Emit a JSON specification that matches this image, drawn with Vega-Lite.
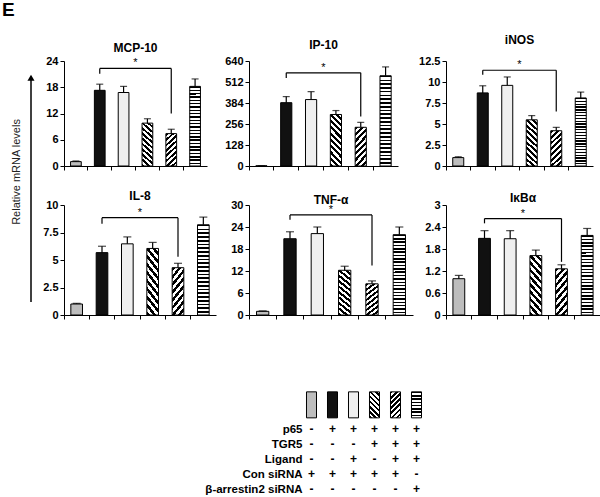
{
  "$schema": "https://vega.github.io/schema/vega-lite/v6.json",
  "background": "white",
  "padding": {"left": 1, "top": 1, "right": 0, "bottom": 0},
  "title": {"text": "E", "anchor": "start", "frame": "bounds", "fontSize": 19, "fontWeight": "bold", "offset": 14, "dx": -9},
  "params": [
    {"name": "p6", "value": {"gradient": "linear", "x1": 0, "y1": 0, "x2": 0.0001, "y2": 1, "stops": [
      {"offset": 0, "color": "#000"}, {"offset": 0.0188, "color": "#000"}, {"offset": 0.0188, "color": "#fff"}, {"offset": 0.0417, "color": "#fff"},
      {"offset": 0.0417, "color": "#000"}, {"offset": 0.0604, "color": "#000"}, {"offset": 0.0604, "color": "#fff"}, {"offset": 0.0833, "color": "#fff"},
      {"offset": 0.0833, "color": "#000"}, {"offset": 0.1021, "color": "#000"}, {"offset": 0.1021, "color": "#fff"}, {"offset": 0.125, "color": "#fff"},
      {"offset": 0.125, "color": "#000"}, {"offset": 0.1438, "color": "#000"}, {"offset": 0.1438, "color": "#fff"}, {"offset": 0.1667, "color": "#fff"},
      {"offset": 0.1667, "color": "#000"}, {"offset": 0.1854, "color": "#000"}, {"offset": 0.1854, "color": "#fff"}, {"offset": 0.2083, "color": "#fff"},
      {"offset": 0.2083, "color": "#000"}, {"offset": 0.2271, "color": "#000"}, {"offset": 0.2271, "color": "#fff"}, {"offset": 0.25, "color": "#fff"},
      {"offset": 0.25, "color": "#000"}, {"offset": 0.2688, "color": "#000"}, {"offset": 0.2688, "color": "#fff"}, {"offset": 0.2917, "color": "#fff"},
      {"offset": 0.2917, "color": "#000"}, {"offset": 0.3104, "color": "#000"}, {"offset": 0.3104, "color": "#fff"}, {"offset": 0.3333, "color": "#fff"},
      {"offset": 0.3333, "color": "#000"}, {"offset": 0.3521, "color": "#000"}, {"offset": 0.3521, "color": "#fff"}, {"offset": 0.375, "color": "#fff"},
      {"offset": 0.375, "color": "#000"}, {"offset": 0.3938, "color": "#000"}, {"offset": 0.3938, "color": "#fff"}, {"offset": 0.4167, "color": "#fff"},
      {"offset": 0.4167, "color": "#000"}, {"offset": 0.4354, "color": "#000"}, {"offset": 0.4354, "color": "#fff"}, {"offset": 0.4583, "color": "#fff"},
      {"offset": 0.4583, "color": "#000"}, {"offset": 0.4771, "color": "#000"}, {"offset": 0.4771, "color": "#fff"}, {"offset": 0.5, "color": "#fff"},
      {"offset": 0.5, "color": "#000"}, {"offset": 0.5188, "color": "#000"}, {"offset": 0.5188, "color": "#fff"}, {"offset": 0.5417, "color": "#fff"},
      {"offset": 0.5417, "color": "#000"}, {"offset": 0.5604, "color": "#000"}, {"offset": 0.5604, "color": "#fff"}, {"offset": 0.5833, "color": "#fff"},
      {"offset": 0.5833, "color": "#000"}, {"offset": 0.6021, "color": "#000"}, {"offset": 0.6021, "color": "#fff"}, {"offset": 0.625, "color": "#fff"},
      {"offset": 0.625, "color": "#000"}, {"offset": 0.6438, "color": "#000"}, {"offset": 0.6438, "color": "#fff"}, {"offset": 0.6667, "color": "#fff"},
      {"offset": 0.6667, "color": "#000"}, {"offset": 0.6854, "color": "#000"}, {"offset": 0.6854, "color": "#fff"}, {"offset": 0.7083, "color": "#fff"},
      {"offset": 0.7083, "color": "#000"}, {"offset": 0.7271, "color": "#000"}, {"offset": 0.7271, "color": "#fff"}, {"offset": 0.75, "color": "#fff"},
      {"offset": 0.75, "color": "#000"}, {"offset": 0.7688, "color": "#000"}, {"offset": 0.7688, "color": "#fff"}, {"offset": 0.7917, "color": "#fff"},
      {"offset": 0.7917, "color": "#000"}, {"offset": 0.8104, "color": "#000"}, {"offset": 0.8104, "color": "#fff"}, {"offset": 0.8333, "color": "#fff"},
      {"offset": 0.8333, "color": "#000"}, {"offset": 0.8521, "color": "#000"}, {"offset": 0.8521, "color": "#fff"}, {"offset": 0.875, "color": "#fff"},
      {"offset": 0.875, "color": "#000"}, {"offset": 0.8938, "color": "#000"}, {"offset": 0.8938, "color": "#fff"}, {"offset": 0.9167, "color": "#fff"},
      {"offset": 0.9167, "color": "#000"}, {"offset": 0.9354, "color": "#000"}, {"offset": 0.9354, "color": "#fff"}, {"offset": 0.9583, "color": "#fff"},
      {"offset": 0.9583, "color": "#000"}, {"offset": 0.9771, "color": "#000"}, {"offset": 0.9771, "color": "#fff"}, {"offset": 1, "color": "#fff"}
    ]}},
    {"name": "p4", "value": {"gradient": "linear", "x1": 0, "y1": 1, "x2": 0.2588, "y2": -0.1647, "stops": [
      {"offset": 0, "color": "#000"}, {"offset": 0.05, "color": "#000"}, {"offset": 0.05, "color": "#fff"}, {"offset": 0.1, "color": "#fff"},
      {"offset": 0.1, "color": "#000"}, {"offset": 0.15, "color": "#000"}, {"offset": 0.15, "color": "#fff"}, {"offset": 0.2, "color": "#fff"},
      {"offset": 0.2, "color": "#000"}, {"offset": 0.25, "color": "#000"}, {"offset": 0.25, "color": "#fff"}, {"offset": 0.3, "color": "#fff"},
      {"offset": 0.3, "color": "#000"}, {"offset": 0.35, "color": "#000"}, {"offset": 0.35, "color": "#fff"}, {"offset": 0.4, "color": "#fff"},
      {"offset": 0.4, "color": "#000"}, {"offset": 0.45, "color": "#000"}, {"offset": 0.45, "color": "#fff"}, {"offset": 0.5, "color": "#fff"},
      {"offset": 0.5, "color": "#000"}, {"offset": 0.55, "color": "#000"}, {"offset": 0.55, "color": "#fff"}, {"offset": 0.6, "color": "#fff"},
      {"offset": 0.6, "color": "#000"}, {"offset": 0.65, "color": "#000"}, {"offset": 0.65, "color": "#fff"}, {"offset": 0.7, "color": "#fff"},
      {"offset": 0.7, "color": "#000"}, {"offset": 0.75, "color": "#000"}, {"offset": 0.75, "color": "#fff"}, {"offset": 0.8, "color": "#fff"},
      {"offset": 0.8, "color": "#000"}, {"offset": 0.85, "color": "#000"}, {"offset": 0.85, "color": "#fff"}, {"offset": 0.9, "color": "#fff"},
      {"offset": 0.9, "color": "#000"}, {"offset": 0.95, "color": "#000"}, {"offset": 0.95, "color": "#fff"}, {"offset": 1, "color": "#fff"}
    ]}},
    {"name": "p5", "value": {"gradient": "linear", "x1": 0, "y1": 0, "x2": 0.3617, "y2": 1.1934, "stops": [
      {"offset": 0, "color": "#000"}, {"offset": 0.0625, "color": "#000"}, {"offset": 0.0625, "color": "#fff"}, {"offset": 0.125, "color": "#fff"},
      {"offset": 0.125, "color": "#000"}, {"offset": 0.1875, "color": "#000"}, {"offset": 0.1875, "color": "#fff"}, {"offset": 0.25, "color": "#fff"},
      {"offset": 0.25, "color": "#000"}, {"offset": 0.3125, "color": "#000"}, {"offset": 0.3125, "color": "#fff"}, {"offset": 0.375, "color": "#fff"},
      {"offset": 0.375, "color": "#000"}, {"offset": 0.4375, "color": "#000"}, {"offset": 0.4375, "color": "#fff"}, {"offset": 0.5, "color": "#fff"},
      {"offset": 0.5, "color": "#000"}, {"offset": 0.5625, "color": "#000"}, {"offset": 0.5625, "color": "#fff"}, {"offset": 0.625, "color": "#fff"},
      {"offset": 0.625, "color": "#000"}, {"offset": 0.6875, "color": "#000"}, {"offset": 0.6875, "color": "#fff"}, {"offset": 0.75, "color": "#fff"},
      {"offset": 0.75, "color": "#000"}, {"offset": 0.8125, "color": "#000"}, {"offset": 0.8125, "color": "#fff"}, {"offset": 0.875, "color": "#fff"},
      {"offset": 0.875, "color": "#000"}, {"offset": 0.9375, "color": "#000"}, {"offset": 0.9375, "color": "#fff"}, {"offset": 1, "color": "#fff"}
    ]}},
    {"name": "l6", "value": {"gradient": "linear", "x1": 0, "y1": 0, "x2": 0.0001, "y2": 1, "stops": [
      {"offset": 0, "color": "#000"}, {"offset": 0.0563, "color": "#000"}, {"offset": 0.0563, "color": "#fff"}, {"offset": 0.125, "color": "#fff"},
      {"offset": 0.125, "color": "#000"}, {"offset": 0.1813, "color": "#000"}, {"offset": 0.1813, "color": "#fff"}, {"offset": 0.25, "color": "#fff"},
      {"offset": 0.25, "color": "#000"}, {"offset": 0.3063, "color": "#000"}, {"offset": 0.3063, "color": "#fff"}, {"offset": 0.375, "color": "#fff"},
      {"offset": 0.375, "color": "#000"}, {"offset": 0.4313, "color": "#000"}, {"offset": 0.4313, "color": "#fff"}, {"offset": 0.5, "color": "#fff"},
      {"offset": 0.5, "color": "#000"}, {"offset": 0.5563, "color": "#000"}, {"offset": 0.5563, "color": "#fff"}, {"offset": 0.625, "color": "#fff"},
      {"offset": 0.625, "color": "#000"}, {"offset": 0.6813, "color": "#000"}, {"offset": 0.6813, "color": "#fff"}, {"offset": 0.75, "color": "#fff"},
      {"offset": 0.75, "color": "#000"}, {"offset": 0.8063, "color": "#000"}, {"offset": 0.8063, "color": "#fff"}, {"offset": 0.875, "color": "#fff"},
      {"offset": 0.875, "color": "#000"}, {"offset": 0.9313, "color": "#000"}, {"offset": 0.9313, "color": "#fff"}, {"offset": 1, "color": "#fff"}
    ]}},
    {"name": "l4", "value": {"gradient": "linear", "x1": 0, "y1": 1, "x2": 0.4639, "y2": -0.2062, "stops": [
      {"offset": 0, "color": "#000"}, {"offset": 0.0714, "color": "#000"}, {"offset": 0.0714, "color": "#fff"}, {"offset": 0.1429, "color": "#fff"},
      {"offset": 0.1429, "color": "#000"}, {"offset": 0.2143, "color": "#000"}, {"offset": 0.2143, "color": "#fff"}, {"offset": 0.2857, "color": "#fff"},
      {"offset": 0.2857, "color": "#000"}, {"offset": 0.3571, "color": "#000"}, {"offset": 0.3571, "color": "#fff"}, {"offset": 0.4286, "color": "#fff"},
      {"offset": 0.4286, "color": "#000"}, {"offset": 0.5, "color": "#000"}, {"offset": 0.5, "color": "#fff"}, {"offset": 0.5714, "color": "#fff"},
      {"offset": 0.5714, "color": "#000"}, {"offset": 0.6429, "color": "#000"}, {"offset": 0.6429, "color": "#fff"}, {"offset": 0.7143, "color": "#fff"},
      {"offset": 0.7143, "color": "#000"}, {"offset": 0.7857, "color": "#000"}, {"offset": 0.7857, "color": "#fff"}, {"offset": 0.8571, "color": "#fff"},
      {"offset": 0.8571, "color": "#000"}, {"offset": 0.9286, "color": "#000"}, {"offset": 0.9286, "color": "#fff"}, {"offset": 1, "color": "#fff"}
    ]}},
    {"name": "l5", "value": {"gradient": "linear", "x1": 0, "y1": 0, "x2": 0.4639, "y2": 1.2062, "stops": [
      {"offset": 0, "color": "#000"}, {"offset": 0.0714, "color": "#000"}, {"offset": 0.0714, "color": "#fff"}, {"offset": 0.1429, "color": "#fff"},
      {"offset": 0.1429, "color": "#000"}, {"offset": 0.2143, "color": "#000"}, {"offset": 0.2143, "color": "#fff"}, {"offset": 0.2857, "color": "#fff"},
      {"offset": 0.2857, "color": "#000"}, {"offset": 0.3571, "color": "#000"}, {"offset": 0.3571, "color": "#fff"}, {"offset": 0.4286, "color": "#fff"},
      {"offset": 0.4286, "color": "#000"}, {"offset": 0.5, "color": "#000"}, {"offset": 0.5, "color": "#fff"}, {"offset": 0.5714, "color": "#fff"},
      {"offset": 0.5714, "color": "#000"}, {"offset": 0.6429, "color": "#000"}, {"offset": 0.6429, "color": "#fff"}, {"offset": 0.7143, "color": "#fff"},
      {"offset": 0.7143, "color": "#000"}, {"offset": 0.7857, "color": "#000"}, {"offset": 0.7857, "color": "#fff"}, {"offset": 0.8571, "color": "#fff"},
      {"offset": 0.8571, "color": "#000"}, {"offset": 0.9286, "color": "#000"}, {"offset": 0.9286, "color": "#fff"}, {"offset": 1, "color": "#fff"}
    ]}}
  ],
  "datasets": {
    "bars": [
      {"panel": "MCP-10", "cond": "c1", "mean": 1.0, "upper": 1.15},
      {"panel": "MCP-10", "cond": "c2", "mean": 17.3, "upper": 18.7},
      {"panel": "MCP-10", "cond": "c3", "mean": 16.8, "upper": 18.2},
      {"panel": "MCP-10", "cond": "c4", "mean": 9.8, "upper": 10.8},
      {"panel": "MCP-10", "cond": "c5", "mean": 7.4, "upper": 8.4},
      {"panel": "MCP-10", "cond": "c6", "mean": 18.2, "upper": 19.9},
      {"panel": "IP-10", "cond": "c1", "mean": 1, "upper": 1},
      {"panel": "IP-10", "cond": "c2", "mean": 386, "upper": 423},
      {"panel": "IP-10", "cond": "c3", "mean": 405, "upper": 453},
      {"panel": "IP-10", "cond": "c4", "mean": 314, "upper": 338},
      {"panel": "IP-10", "cond": "c5", "mean": 236, "upper": 266},
      {"panel": "IP-10", "cond": "c6", "mean": 550, "upper": 604},
      {"panel": "iNOS", "cond": "c1", "mean": 1.0, "upper": 1.1},
      {"panel": "iNOS", "cond": "c2", "mean": 8.7, "upper": 9.55},
      {"panel": "iNOS", "cond": "c3", "mean": 9.6, "upper": 10.6},
      {"panel": "iNOS", "cond": "c4", "mean": 5.5, "upper": 6.0},
      {"panel": "iNOS", "cond": "c5", "mean": 4.2, "upper": 4.6},
      {"panel": "iNOS", "cond": "c6", "mean": 8.1, "upper": 8.8},
      {"panel": "IL-8", "cond": "c1", "mean": 1.0, "upper": 1.05},
      {"panel": "IL-8", "cond": "c2", "mean": 5.67, "upper": 6.25},
      {"panel": "IL-8", "cond": "c3", "mean": 6.47, "upper": 7.1},
      {"panel": "IL-8", "cond": "c4", "mean": 6.05, "upper": 6.6},
      {"panel": "IL-8", "cond": "c5", "mean": 4.3, "upper": 4.7},
      {"panel": "IL-8", "cond": "c6", "mean": 8.2, "upper": 8.9},
      {"panel": "TNF-α", "cond": "c1", "mean": 1.0, "upper": 1.1},
      {"panel": "TNF-α", "cond": "c2", "mean": 20.8, "upper": 22.7},
      {"panel": "TNF-α", "cond": "c3", "mean": 22.2, "upper": 24.0},
      {"panel": "TNF-α", "cond": "c4", "mean": 12.2, "upper": 13.3},
      {"panel": "TNF-α", "cond": "c5", "mean": 8.5, "upper": 9.3},
      {"panel": "TNF-α", "cond": "c6", "mean": 21.9, "upper": 24.0},
      {"panel": "IκBα", "cond": "c1", "mean": 0.99, "upper": 1.08},
      {"panel": "IκBα", "cond": "c2", "mean": 2.09, "upper": 2.3},
      {"panel": "IκBα", "cond": "c3", "mean": 2.08, "upper": 2.3},
      {"panel": "IκBα", "cond": "c4", "mean": 1.62, "upper": 1.77},
      {"panel": "IκBα", "cond": "c5", "mean": 1.26, "upper": 1.37},
      {"panel": "IκBα", "cond": "c6", "mean": 2.17, "upper": 2.36}
    ],
    "brackets": [
      {"panel": "MCP-10", "from": "c2", "to": "c5", "mid": "c4", "top": 22.3, "leftEnd": 21.1, "rightEnd": 12.0},
      {"panel": "IP-10", "from": "c2", "to": "c5", "mid": "c4", "top": 568, "leftEnd": 537, "rightEnd": 302},
      {"panel": "iNOS", "from": "c2", "to": "c5", "mid": "c4", "top": 11.4, "leftEnd": 10.85, "rightEnd": 6.5},
      {"panel": "IL-8", "from": "c2", "to": "c5", "mid": "c4", "top": 8.85, "leftEnd": 8.3, "rightEnd": 5.3},
      {"panel": "TNF-α", "from": "c2", "to": "c5", "mid": "c4", "top": 27.3, "leftEnd": 26, "rightEnd": 13.5},
      {"panel": "IκBα", "from": "c2", "to": "c5", "mid": "c4", "top": 2.63, "leftEnd": 2.5, "rightEnd": 1.45}
    ],
    "conds": [{"cond": "c1"}, {"cond": "c2"}, {"cond": "c3"}, {"cond": "c4"}, {"cond": "c5"}, {"cond": "c6"}],
    "legend": [
      {"row": "p65", "cond": "c1", "sign": "-"}, {"row": "p65", "cond": "c2", "sign": "+"}, {"row": "p65", "cond": "c3", "sign": "+"},
      {"row": "p65", "cond": "c4", "sign": "+"}, {"row": "p65", "cond": "c5", "sign": "+"}, {"row": "p65", "cond": "c6", "sign": "+"},
      {"row": "TGR5", "cond": "c1", "sign": "-"}, {"row": "TGR5", "cond": "c2", "sign": "-"}, {"row": "TGR5", "cond": "c3", "sign": "-"},
      {"row": "TGR5", "cond": "c4", "sign": "+"}, {"row": "TGR5", "cond": "c5", "sign": "+"}, {"row": "TGR5", "cond": "c6", "sign": "+"},
      {"row": "Ligand", "cond": "c1", "sign": "-"}, {"row": "Ligand", "cond": "c2", "sign": "-"}, {"row": "Ligand", "cond": "c3", "sign": "+"},
      {"row": "Ligand", "cond": "c4", "sign": "-"}, {"row": "Ligand", "cond": "c5", "sign": "+"}, {"row": "Ligand", "cond": "c6", "sign": "+"},
      {"row": "Con siRNA", "cond": "c1", "sign": "+"}, {"row": "Con siRNA", "cond": "c2", "sign": "+"}, {"row": "Con siRNA", "cond": "c3", "sign": "+"},
      {"row": "Con siRNA", "cond": "c4", "sign": "+"}, {"row": "Con siRNA", "cond": "c5", "sign": "+"}, {"row": "Con siRNA", "cond": "c6", "sign": "-"},
      {"row": "β-arrestin2 siRNA", "cond": "c1", "sign": "-"}, {"row": "β-arrestin2 siRNA", "cond": "c2", "sign": "-"}, {"row": "β-arrestin2 siRNA", "cond": "c3", "sign": "-"},
      {"row": "β-arrestin2 siRNA", "cond": "c4", "sign": "-"}, {"row": "β-arrestin2 siRNA", "cond": "c5", "sign": "-"}, {"row": "β-arrestin2 siRNA", "cond": "c6", "sign": "+"}
    ]
  },
  "config": {
    "font": "Liberation Sans",
    "view": {"stroke": null},
    "axis": {"domainColor": "#000", "tickColor": "#000", "labelColor": "#000", "labelFont": "Liberation Sans", "labelFontWeight": "bold", "labelFontSize": 11, "grid": false, "domainWidth": 1, "tickWidth": 1, "labelOverlap": false},
    "title": {"fontSize": 12, "fontWeight": "bold", "color": "#000", "font": "Liberation Sans", "frame": "group"}
  },
  "spacing": 69,
  "vconcat": [
    {
      "columns": 4,
      "align": "each",
      "bounds": "flush",
      "spacing": {"row": 39, "column": 33},
      "concat": [
        {
          "width": 14, "height": 105,
          "data": {"values": [{"label": "Relative mRNA levels"}]},
          "layer": [
            {"mark": {"type": "rule", "color": "#000", "strokeWidth": 1.5},
             "encoding": {
               "x": {"datum": "arrow", "type": "nominal", "scale": {"type": "point", "domain": ["label", "arrow"], "padding": 0}, "axis": null},
               "y": {"datum": -1.295, "type": "quantitative", "scale": {"domain": [0, 1], "nice": false, "zero": false}, "axis": null},
               "y2": {"datum": 0.85}}},
            {"mark": {"type": "point", "shape": "triangle-up", "size": 50, "filled": true, "color": "#000", "opacity": 1},
             "encoding": {
               "x": {"datum": "arrow", "type": "nominal"},
               "y": {"datum": 0.84, "type": "quantitative"}}},
            {"mark": {"type": "text", "angle": 270, "fontSize": 11, "color": "#222", "baseline": "middle", "align": "center"},
             "encoding": {
               "x": {"datum": "label", "type": "nominal"},
               "y": {"datum": -0.057, "type": "quantitative"},
               "text": {"field": "label"}}}
          ]
        },
        {"width": 143, "height": 105,
         "title": {"text": "MCP-10", "offset": 0},
         "encoding": {"x": {"field": "cond", "type": "nominal", "title": null, "scale": {"domain": ["c1","c2","c3","c4","c5","c6"], "paddingInner": 0, "paddingOuter": 0}, "axis": {"labels": false, "bandPosition": 0, "tickSize": 4, "title": null}}},
         "layer": [
           {"data": {"name": "bars"}, "transform": [{"filter": {"field": "panel", "equal": "MCP-10"}}],
            "layer": [
              {"mark": {"type": "bar", "width": {"band": 0.45}, "stroke": "#000", "strokeWidth": 1},
               "encoding": {"y": {"field": "mean", "type": "quantitative", "title": null, "scale": {"domain": [0, 24], "nice": false}, "axis": {"values": [0, 6, 12, 18, 24], "tickCount": 12, "labelExpr": "toString(datum.value)", "labelOverlap": false, "tickSize": 4, "labelPadding": 2, "title": null}},
                            "fill": {"value": {"expr": "datum.cond==='c1'?'#bdbdbd':datum.cond==='c2'?'#111111':datum.cond==='c3'?'#efefef':datum.cond==='c4'?p4:datum.cond==='c5'?p5:p6"}}}},
              {"mark": {"type": "rule", "color": "#000", "strokeWidth": 1.2}, "encoding": {"y": {"field": "mean", "type": "quantitative", "title": null}, "y2": {"field": "upper"}}},
              {"mark": {"type": "tick", "color": "#000", "size": 7, "thickness": 1.2}, "encoding": {"y": {"field": "upper", "type": "quantitative", "title": null}}}
            ]},
           {"data": {"name": "brackets"}, "transform": [{"filter": {"field": "panel", "equal": "MCP-10"}}],
            "layer": [
              {"mark": {"type": "rule", "color": "#000", "strokeWidth": 1.2}, "encoding": {"x": {"field": "from", "type": "nominal", "title": null}, "x2": {"field": "to"}, "y": {"field": "top", "type": "quantitative", "title": null}}},
              {"mark": {"type": "rule", "color": "#000", "strokeWidth": 1.2}, "encoding": {"x": {"field": "from", "type": "nominal", "title": null}, "y": {"field": "top", "type": "quantitative", "title": null}, "y2": {"field": "leftEnd"}}},
              {"mark": {"type": "rule", "color": "#000", "strokeWidth": 1.2}, "encoding": {"x": {"field": "to", "type": "nominal", "title": null}, "y": {"field": "top", "type": "quantitative", "title": null}, "y2": {"field": "rightEnd"}}},
              {"mark": {"type": "text", "text": "*", "baseline": "bottom", "fontSize": 11, "color": "#000"}, "encoding": {"x": {"field": "mid", "type": "nominal", "bandPosition": 0, "title": null}, "y": {"field": "top", "type": "quantitative", "title": null}}}
            ]}
         ]},
        {"width": 149, "height": 105,
         "title": {"text": "IP-10", "offset": 3},
         "encoding": {"x": {"field": "cond", "type": "nominal", "title": null, "scale": {"domain": ["c1","c2","c3","c4","c5","c6"], "paddingInner": 0, "paddingOuter": 0}, "axis": {"labels": false, "bandPosition": 0, "tickSize": 4, "title": null}}},
         "layer": [
           {"data": {"name": "bars"}, "transform": [{"filter": {"field": "panel", "equal": "IP-10"}}],
            "layer": [
              {"mark": {"type": "bar", "width": {"band": 0.45}, "stroke": "#000", "strokeWidth": 1},
               "encoding": {"y": {"field": "mean", "type": "quantitative", "title": null, "scale": {"domain": [0, 640], "nice": false}, "axis": {"values": [0, 128, 256, 384, 512, 640], "tickCount": 12, "labelExpr": "toString(datum.value)", "labelOverlap": false, "tickSize": 4, "labelPadding": 2, "title": null}},
                            "fill": {"value": {"expr": "datum.cond==='c1'?'#bdbdbd':datum.cond==='c2'?'#111111':datum.cond==='c3'?'#efefef':datum.cond==='c4'?p4:datum.cond==='c5'?p5:p6"}}}},
              {"mark": {"type": "rule", "color": "#000", "strokeWidth": 1.2}, "encoding": {"y": {"field": "mean", "type": "quantitative", "title": null}, "y2": {"field": "upper"}}},
              {"mark": {"type": "tick", "color": "#000", "size": 7, "thickness": 1.2}, "encoding": {"y": {"field": "upper", "type": "quantitative", "title": null}}}
            ]},
           {"data": {"name": "brackets"}, "transform": [{"filter": {"field": "panel", "equal": "IP-10"}}],
            "layer": [
              {"mark": {"type": "rule", "color": "#000", "strokeWidth": 1.2}, "encoding": {"x": {"field": "from", "type": "nominal", "title": null}, "x2": {"field": "to"}, "y": {"field": "top", "type": "quantitative", "title": null}}},
              {"mark": {"type": "rule", "color": "#000", "strokeWidth": 1.2}, "encoding": {"x": {"field": "from", "type": "nominal", "title": null}, "y": {"field": "top", "type": "quantitative", "title": null}, "y2": {"field": "leftEnd"}}},
              {"mark": {"type": "rule", "color": "#000", "strokeWidth": 1.2}, "encoding": {"x": {"field": "to", "type": "nominal", "title": null}, "y": {"field": "top", "type": "quantitative", "title": null}, "y2": {"field": "rightEnd"}}},
              {"mark": {"type": "text", "text": "*", "baseline": "bottom", "fontSize": 11, "color": "#000"}, "encoding": {"x": {"field": "mid", "type": "nominal", "bandPosition": 0, "title": null}, "y": {"field": "top", "type": "quantitative", "title": null}}}
            ]}
         ]},
        {"width": 147, "height": 105,
         "title": {"text": "iNOS", "offset": 8},
         "encoding": {"x": {"field": "cond", "type": "nominal", "title": null, "scale": {"domain": ["c1","c2","c3","c4","c5","c6"], "paddingInner": 0, "paddingOuter": 0}, "axis": {"labels": false, "bandPosition": 0, "tickSize": 4, "title": null}}},
         "layer": [
           {"data": {"name": "bars"}, "transform": [{"filter": {"field": "panel", "equal": "iNOS"}}],
            "layer": [
              {"mark": {"type": "bar", "width": {"band": 0.45}, "stroke": "#000", "strokeWidth": 1},
               "encoding": {"y": {"field": "mean", "type": "quantitative", "title": null, "scale": {"domain": [0, 12.5], "nice": false}, "axis": {"values": [0, 2.5, 5, 7.5, 10, 12.5], "tickCount": 12, "labelExpr": "toString(datum.value)", "labelOverlap": false, "tickSize": 4, "labelPadding": 2, "title": null}},
                            "fill": {"value": {"expr": "datum.cond==='c1'?'#bdbdbd':datum.cond==='c2'?'#111111':datum.cond==='c3'?'#efefef':datum.cond==='c4'?p4:datum.cond==='c5'?p5:p6"}}}},
              {"mark": {"type": "rule", "color": "#000", "strokeWidth": 1.2}, "encoding": {"y": {"field": "mean", "type": "quantitative", "title": null}, "y2": {"field": "upper"}}},
              {"mark": {"type": "tick", "color": "#000", "size": 7, "thickness": 1.2}, "encoding": {"y": {"field": "upper", "type": "quantitative", "title": null}}}
            ]},
           {"data": {"name": "brackets"}, "transform": [{"filter": {"field": "panel", "equal": "iNOS"}}],
            "layer": [
              {"mark": {"type": "rule", "color": "#000", "strokeWidth": 1.2}, "encoding": {"x": {"field": "from", "type": "nominal", "title": null}, "x2": {"field": "to"}, "y": {"field": "top", "type": "quantitative", "title": null}}},
              {"mark": {"type": "rule", "color": "#000", "strokeWidth": 1.2}, "encoding": {"x": {"field": "from", "type": "nominal", "title": null}, "y": {"field": "top", "type": "quantitative", "title": null}, "y2": {"field": "leftEnd"}}},
              {"mark": {"type": "rule", "color": "#000", "strokeWidth": 1.2}, "encoding": {"x": {"field": "to", "type": "nominal", "title": null}, "y": {"field": "top", "type": "quantitative", "title": null}, "y2": {"field": "rightEnd"}}},
              {"mark": {"type": "text", "text": "*", "baseline": "bottom", "fontSize": 11, "color": "#000"}, "encoding": {"x": {"field": "mid", "type": "nominal", "bandPosition": 0, "title": null}, "y": {"field": "top", "type": "quantitative", "title": null}}}
            ]}
         ]},
        {"width": 14, "height": 110, "data": {"values": []}, "mark": "point"},
        {"width": 152, "height": 110,
         "title": {"text": "IL-8", "offset": -4},
         "encoding": {"x": {"field": "cond", "type": "nominal", "title": null, "scale": {"domain": ["c1","c2","c3","c4","c5","c6"], "paddingInner": 0, "paddingOuter": 0}, "axis": {"labels": false, "bandPosition": 0, "tickSize": 4, "title": null}}},
         "layer": [
           {"data": {"name": "bars"}, "transform": [{"filter": {"field": "panel", "equal": "IL-8"}}],
            "layer": [
              {"mark": {"type": "bar", "width": {"band": 0.46}, "stroke": "#000", "strokeWidth": 1},
               "encoding": {"y": {"field": "mean", "type": "quantitative", "title": null, "scale": {"domain": [0, 10], "nice": false}, "axis": {"values": [0, 2.5, 5, 7.5, 10], "tickCount": 12, "labelExpr": "toString(datum.value)", "labelOverlap": false, "tickSize": 4, "labelPadding": 2, "title": null}},
                            "fill": {"value": {"expr": "datum.cond==='c1'?'#bdbdbd':datum.cond==='c2'?'#111111':datum.cond==='c3'?'#efefef':datum.cond==='c4'?p4:datum.cond==='c5'?p5:p6"}}}},
              {"mark": {"type": "rule", "color": "#000", "strokeWidth": 1.2}, "encoding": {"y": {"field": "mean", "type": "quantitative", "title": null}, "y2": {"field": "upper"}}},
              {"mark": {"type": "tick", "color": "#000", "size": 8, "thickness": 1.2}, "encoding": {"y": {"field": "upper", "type": "quantitative", "title": null}}}
            ]},
           {"data": {"name": "brackets"}, "transform": [{"filter": {"field": "panel", "equal": "IL-8"}}],
            "layer": [
              {"mark": {"type": "rule", "color": "#000", "strokeWidth": 1.2}, "encoding": {"x": {"field": "from", "type": "nominal", "title": null}, "x2": {"field": "to"}, "y": {"field": "top", "type": "quantitative", "title": null}}},
              {"mark": {"type": "rule", "color": "#000", "strokeWidth": 1.2}, "encoding": {"x": {"field": "from", "type": "nominal", "title": null}, "y": {"field": "top", "type": "quantitative", "title": null}, "y2": {"field": "leftEnd"}}},
              {"mark": {"type": "rule", "color": "#000", "strokeWidth": 1.2}, "encoding": {"x": {"field": "to", "type": "nominal", "title": null}, "y": {"field": "top", "type": "quantitative", "title": null}, "y2": {"field": "rightEnd"}}},
              {"mark": {"type": "text", "text": "*", "baseline": "bottom", "fontSize": 11, "color": "#000"}, "encoding": {"x": {"field": "mid", "type": "nominal", "bandPosition": 0, "title": null}, "y": {"field": "top", "type": "quantitative", "title": null}}}
            ]}
         ]},
        {"width": 164, "height": 110,
         "title": {"text": "TNF-α", "offset": -8},
         "encoding": {"x": {"field": "cond", "type": "nominal", "title": null, "scale": {"domain": ["c1","c2","c3","c4","c5","c6"], "paddingInner": 0, "paddingOuter": 0}, "axis": {"labels": false, "bandPosition": 0, "tickSize": 4, "title": null}}},
         "layer": [
           {"data": {"name": "bars"}, "transform": [{"filter": {"field": "panel", "equal": "TNF-α"}}],
            "layer": [
              {"mark": {"type": "bar", "width": {"band": 0.45}, "stroke": "#000", "strokeWidth": 1},
               "encoding": {"y": {"field": "mean", "type": "quantitative", "title": null, "scale": {"domain": [0, 30], "nice": false}, "axis": {"values": [0, 6, 12, 18, 24, 30], "tickCount": 12, "labelExpr": "toString(datum.value)", "labelOverlap": false, "tickSize": 4, "labelPadding": 2, "title": null}},
                            "fill": {"value": {"expr": "datum.cond==='c1'?'#bdbdbd':datum.cond==='c2'?'#111111':datum.cond==='c3'?'#efefef':datum.cond==='c4'?p4:datum.cond==='c5'?p5:p6"}}}},
              {"mark": {"type": "rule", "color": "#000", "strokeWidth": 1.2}, "encoding": {"y": {"field": "mean", "type": "quantitative", "title": null}, "y2": {"field": "upper"}}},
              {"mark": {"type": "tick", "color": "#000", "size": 8, "thickness": 1.2}, "encoding": {"y": {"field": "upper", "type": "quantitative", "title": null}}}
            ]},
           {"data": {"name": "brackets"}, "transform": [{"filter": {"field": "panel", "equal": "TNF-α"}}],
            "layer": [
              {"mark": {"type": "rule", "color": "#000", "strokeWidth": 1.2}, "encoding": {"x": {"field": "from", "type": "nominal", "title": null}, "x2": {"field": "to"}, "y": {"field": "top", "type": "quantitative", "title": null}}},
              {"mark": {"type": "rule", "color": "#000", "strokeWidth": 1.2}, "encoding": {"x": {"field": "from", "type": "nominal", "title": null}, "y": {"field": "top", "type": "quantitative", "title": null}, "y2": {"field": "leftEnd"}}},
              {"mark": {"type": "rule", "color": "#000", "strokeWidth": 1.2}, "encoding": {"x": {"field": "to", "type": "nominal", "title": null}, "y": {"field": "top", "type": "quantitative", "title": null}, "y2": {"field": "rightEnd"}}},
              {"mark": {"type": "text", "text": "*", "baseline": "bottom", "fontSize": 11, "color": "#000"}, "encoding": {"x": {"field": "mid", "type": "nominal", "bandPosition": 0, "title": null}, "y": {"field": "top", "type": "quantitative", "title": null}}}
            ]}
         ]},
        {"width": 154, "height": 110,
         "title": {"text": "IκBα", "offset": -6},
         "encoding": {"x": {"field": "cond", "type": "nominal", "title": null, "scale": {"domain": ["c1","c2","c3","c4","c5","c6"], "paddingInner": 0, "paddingOuter": 0}, "axis": {"labels": false, "bandPosition": 0, "tickSize": 4, "title": null}}},
         "layer": [
           {"data": {"name": "bars"}, "transform": [{"filter": {"field": "panel", "equal": "IκBα"}}],
            "layer": [
              {"mark": {"type": "bar", "width": {"band": 0.46}, "stroke": "#000", "strokeWidth": 1},
               "encoding": {"y": {"field": "mean", "type": "quantitative", "title": null, "scale": {"domain": [0, 3], "nice": false}, "axis": {"values": [0, 0.6, 1.2, 1.8, 2.4, 3], "tickCount": 12, "labelExpr": "toString(datum.value)", "labelOverlap": false, "tickSize": 4, "labelPadding": 2, "title": null}},
                            "fill": {"value": {"expr": "datum.cond==='c1'?'#bdbdbd':datum.cond==='c2'?'#111111':datum.cond==='c3'?'#efefef':datum.cond==='c4'?p4:datum.cond==='c5'?p5:p6"}}}},
              {"mark": {"type": "rule", "color": "#000", "strokeWidth": 1.2}, "encoding": {"y": {"field": "mean", "type": "quantitative", "title": null}, "y2": {"field": "upper"}}},
              {"mark": {"type": "tick", "color": "#000", "size": 8, "thickness": 1.2}, "encoding": {"y": {"field": "upper", "type": "quantitative", "title": null}}}
            ]},
           {"data": {"name": "brackets"}, "transform": [{"filter": {"field": "panel", "equal": "IκBα"}}],
            "layer": [
              {"mark": {"type": "rule", "color": "#000", "strokeWidth": 1.2}, "encoding": {"x": {"field": "from", "type": "nominal", "title": null}, "x2": {"field": "to"}, "y": {"field": "top", "type": "quantitative", "title": null}}},
              {"mark": {"type": "rule", "color": "#000", "strokeWidth": 1.2}, "encoding": {"x": {"field": "from", "type": "nominal", "title": null}, "y": {"field": "top", "type": "quantitative", "title": null}, "y2": {"field": "leftEnd"}}},
              {"mark": {"type": "rule", "color": "#000", "strokeWidth": 1.2}, "encoding": {"x": {"field": "to", "type": "nominal", "title": null}, "y": {"field": "top", "type": "quantitative", "title": null}, "y2": {"field": "rightEnd"}}},
              {"mark": {"type": "text", "text": "*", "baseline": "bottom", "fontSize": 11, "color": "#000"}, "encoding": {"x": {"field": "mid", "type": "nominal", "bandPosition": 0, "title": null}, "y": {"field": "top", "type": "quantitative", "title": null}}}
            ]}
         ]}
      ]
    },
    {
      "width": 410, "height": 90,
      "layer": [
        {"data": {"name": "conds"},
         "mark": {"type": "point", "shape": "M-0.385,-0.55H0.385V1.45H-0.385Z", "size": 676, "filled": true, "opacity": 1, "stroke": "#000", "strokeWidth": 1},
         "encoding": {
           "x": {"field": "cond", "type": "nominal", "title": null, "scale": {"type": "band", "domain": ["c1","c2","c3","c4","c5","c6"], "range": [284, 410], "paddingInner": 0, "paddingOuter": 0}, "axis": null},
           "y": {"datum": "sw", "type": "nominal", "title": null, "scale": {"type": "point", "padding": 0, "domain": ["sw", "gap", "p65", "TGR5", "Ligand", "Con siRNA", "β-arrestin2 siRNA"]},
                 "axis": {"values": ["p65", "TGR5", "Ligand", "Con siRNA", "β-arrestin2 siRNA"], "offset": -288, "domain": false, "ticks": false, "labelPadding": 3, "labelFontSize": 11.5, "labelFontWeight": "bold", "title": null}},
           "fill": {"value": {"expr": "datum.cond==='c1'?'#bdbdbd':datum.cond==='c2'?'#111111':datum.cond==='c3'?'#efefef':datum.cond==='c4'?l4:datum.cond==='c5'?l5:l6"}}}},
        {"data": {"name": "legend"},
         "mark": {"type": "text", "fontSize": 12, "fontWeight": "bold", "color": "#000", "baseline": "middle"},
         "encoding": {
           "x": {"field": "cond", "type": "nominal", "title": null},
           "y": {"field": "row", "type": "nominal", "title": null},
           "text": {"field": "sign"}}}
      ]
    }
  ]
}
